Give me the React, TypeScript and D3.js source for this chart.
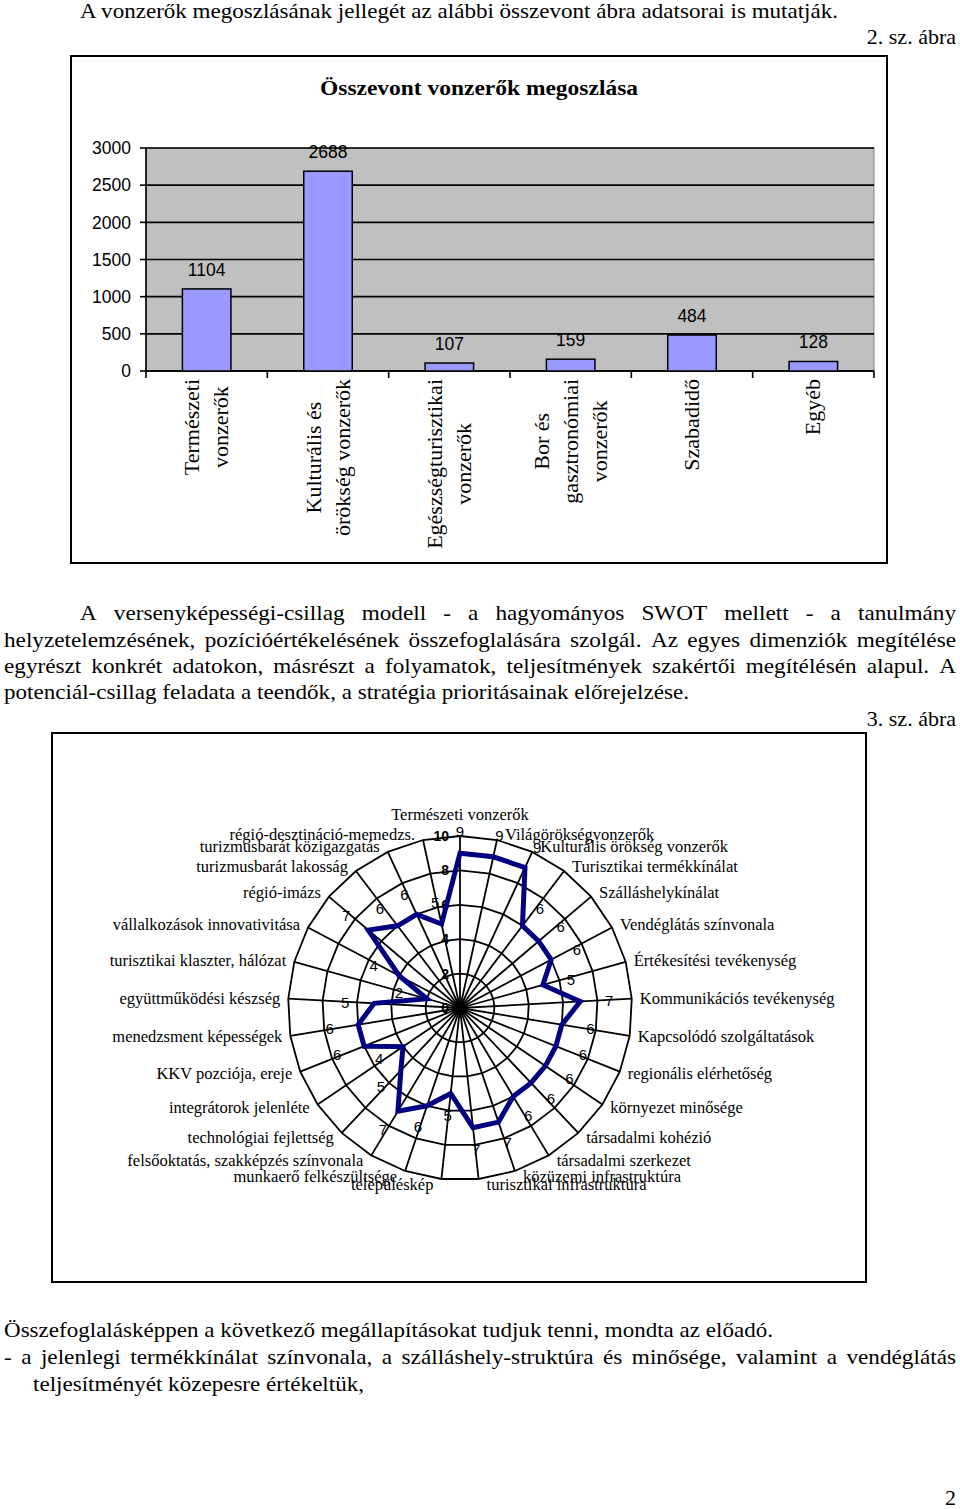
import * as d3 from 'd3'

// --- bar chart data (2. sz. ábra)
const barCategories = [
  ['Természeti', 'vonzerők'],
  ['Kulturális és', 'örökség vonzerők'],
  ['Egészségturisztikai', 'vonzerők'],
  ['Bor és', 'gasztronómiai', 'vonzerők'],
  ['Szabadidő'],
  ['Egyéb'],
]
const barValues = [1104, 2688, 107, 159, 484, 128]
const barTicks = [0, 500, 1000, 1500, 2000, 2500, 3000]

// --- radar chart data (3. sz. ábra)
const radarCategories = [
  'Természeti vonzerők',
  'Világörökségvonzerők',
  'Kulturális örökség vonzerők',
  'Turisztikai termékkínálat',
  'Szálláshelykínálat',
  'Vendéglátás színvonala',
  'Értékesítési tevékenység',
  'Kommunikációs tevékenység',
  'Kapcsolódó szolgáltatások',
  'regionális elérhetőség',
  'környezet minősége',
  'társadalmi kohézió',
  'társadalmi szerkezet',
  'közüzemi infrastruktúra',
  'turisztikai infrastruktúra',
  'településkép',
  'munkaerő felkészültsége',
  'felsőoktatás, szakképzés színvonala',
  'technológiai fejlettség',
  'integrátorok jelenléte',
  'KKV pozciója, ereje',
  'menedzsment képességek',
  'együttműködési készség',
  'turisztikai klaszter, hálózat',
  'vállalkozások innovativitása',
  'régió-imázs',
  'turizmusbarát lakosság',
  'turizmusbarát közigazgatás',
  'régió-desztináció-memedzs.',
]
const radarValues = [9, 9, 9, 6, 6, 6, 5, 7, 6, 6, 6, 6, 6, 7, 7, 5, 6, 7, 5, 4, 6, 6, 5, 2, 4, 7, 6, 6, 5]
const radarTicks = [0, 2, 4, 6, 8, 10]

const SERIF = "'Liberation Serif', 'Times New Roman', serif"
const SANS = "'Liberation Sans', Arial, sans-serif"

let canvasCtx: CanvasRenderingContext2D | null = null
function measure(text: string, font: string) {
  if (!canvasCtx) canvasCtx = document.createElement('canvas').getContext('2d')
  if (!canvasCtx) return text.length * 9
  canvasCtx.font = font
  return canvasCtx.measureText(text).width
}

function BarChart() {
  const left = 146
  const right = 874
  const top = 148
  const bottom = 371

  const x = d3.scaleBand<number>().domain(d3.range(barValues.length)).range([left, right])
  const y = d3.scaleLinear().domain([0, 3000]).range([bottom, top])
  const barW = x.bandwidth() * 0.4
  const labelFont = 22
  const lineGap = 29

  return (
    <g>
      <rect x={71} y={56} width={816} height={507} fill="#fff" stroke="#000" strokeWidth={2} />
      <text x={479} y={95} textAnchor="middle" fontFamily={SERIF} fontWeight={700} fontSize={21}
        textLength={318} lengthAdjust="spacingAndGlyphs">
        Összevont vonzerők megoszlása
      </text>
      <rect x={left} y={top} width={right - left} height={bottom - top} fill="#c0c0c0" stroke="#808080" strokeWidth={1} />
      {barTicks.map(t => (
        <g key={t}>
          <line x1={left} x2={right} y1={y(t)} y2={y(t)} stroke="#000" strokeWidth={1.6} />
          <line x1={left - 6} x2={left} y1={y(t)} y2={y(t)} stroke="#000" strokeWidth={1.6} />
          <text x={131} y={y(t)} dy="0.36em" textAnchor="end" fontFamily={SANS} fontSize={17.5}>{t}</text>
        </g>
      ))}
      <line x1={left} x2={left} y1={top} y2={bottom} stroke="#000" strokeWidth={1.6} />
      <line x1={left} x2={right} y1={bottom} y2={bottom} stroke="#000" strokeWidth={1.6} />
      {d3.range(barValues.length + 1).map(i => {
        const xx = left + i * x.step()
        return <line key={i} x1={xx} x2={xx} y1={bottom} y2={bottom + 7} stroke="#000" strokeWidth={1.6} />
      })}
      {barValues.map((v, i) => {
        const cx = (x(i) ?? 0) + x.bandwidth() / 2
        return (
          <g key={i}>
            <rect x={cx - barW / 2} y={y(v)} width={barW} height={bottom - y(v)} fill="#9999ff" stroke="#000" strokeWidth={1.5} />
            <text x={cx} y={y(v) - 13} textAnchor="middle" fontFamily={SANS} fontSize={17.5}>{v}</text>
          </g>
        )
      })}
      {barCategories.map((lines, i) => {
        const cx = (x(i) ?? 0) + x.bandwidth() / 2
        const widths = lines.map(l => measure(l, `${labelFont}px ${SERIF}`))
        const maxW = Math.max(...widths)
        const yc = 379 + maxW / 2
        return (
          <g key={i}>
            {lines.map((l, j) => {
              const xx = cx + (j - (lines.length - 1) / 2) * lineGap + 7
              return (
                <text key={j} transform={`translate(${xx},${yc}) rotate(-90)`} textAnchor="middle"
                  fontFamily={SERIF} fontSize={labelFont}>
                  {l}
                </text>
              )
            })}
          </g>
        )
      })}
    </g>
  )
}

function RadarChart() {
  const cx = 460
  const cy = 1008
  const R = 172
  const n = radarCategories.length
  const angle = (i: number) => (i * 2 * Math.PI) / n
  const r = d3.scaleLinear().domain([0, 10]).range([0, R])

  const ring = d3.lineRadial<number>()
    .angle((_, i) => angle(i))
    .radius(d => d)
    .curve(d3.curveLinearClosed)
  const dataLine = d3.lineRadial<number>()
    .angle((_, i) => angle(i))
    .radius(d => r(d))
    .curve(d3.curveLinearClosed)

  return (
    <g>
      <rect x={52} y={733} width={814} height={549} fill="#fff" stroke="#000" strokeWidth={2} />
      <g transform={`translate(${cx},${cy})`}>
        {radarTicks.filter(t => t > 0).map(t => (
          <path key={t} d={ring(d3.range(n).map(() => r(t))) ?? undefined} fill="none" stroke="#000" strokeWidth={1.8} />
        ))}
        {d3.range(n).map(i => (
          <line key={i} x1={0} y1={0} x2={R * Math.sin(angle(i))} y2={-R * Math.cos(angle(i))} stroke="#000" strokeWidth={1.8} />
        ))}
        {radarTicks.map(t => (
          <text key={t} x={-11} y={-r(t)} dy="0.36em" textAnchor="end" fontFamily={SANS} fontWeight={700} fontSize={14}>{t}</text>
        ))}
        <path d={dataLine(radarValues) ?? undefined} fill="none" stroke="#000080" strokeWidth={5} strokeLinejoin="miter" />
        {radarValues.map((v, i) => {
          const a = angle(i)
          const px = r(v) * Math.sin(a) + 29 * Math.sin(a)
          const py = -r(v) * Math.cos(a) - 22 * Math.cos(a)
          return (
            <text key={i} x={px} y={py} dy="0.36em" textAnchor="middle" fontFamily={SANS} fontSize={15}>{v}</text>
          )
        })}
        {radarCategories.map((c, i) => {
          const a = angle(i)
          const s = Math.sin(a)
          const co = Math.cos(a)
          if (i === 0) {
            return <text key={i} x={0} y={-R - 21} dy="0.33em" textAnchor="middle" fontFamily={SERIF} fontSize={16.5}>{c}</text>
          }
          const lx = R * s + 8 * Math.sign(s)
          const ly = -R * co - 6 * co
          return (
            <text key={i} x={lx} y={ly} dy="0.33em" textAnchor={s > 0 ? 'start' : 'end'} fontFamily={SERIF} fontSize={16.5}>{c}</text>
          )
        })}
      </g>
    </g>
  )
}

type Line = { text: string; x: number; y: number; w?: number; justify?: boolean; anchor?: 'start' | 'end' }

const pageLines: Line[] = [
  { text: 'A vonzerők megoszlásának jellegét az alábbi összevont ábra adatsorai is mutatják.', x: 80, y: 18, w: 758 },
  { text: '2. sz. ábra', x: 956, y: 44, anchor: 'end' },
  { text: 'A versenyképességi-csillag modell - a hagyományos SWOT mellett - a tanulmány', x: 80, y: 620, w: 876, justify: true },
  { text: 'helyzetelemzésének, pozícióértékelésének összefoglalására szolgál. Az egyes dimenziók megítélése', x: 4, y: 647, w: 952, justify: true },
  { text: 'egyrészt konkrét adatokon, másrészt a folyamatok, teljesítmények szakértői megítélésén alapul. A', x: 4, y: 673, w: 952, justify: true },
  { text: 'potenciál-csillag feladata a teendők, a stratégia prioritásainak előrejelzése.', x: 4, y: 699, w: 685 },
  { text: '3. sz. ábra', x: 956, y: 726, anchor: 'end' },
  { text: 'Összefoglalásképpen a következő megállapításokat tudjuk tenni, mondta az előadó.', x: 4, y: 1337, w: 769 },
  { text: '- a jelenlegi termékkínálat színvonala, a szálláshely-struktúra és minősége, valamint a vendéglátás', x: 4, y: 1364, w: 952, justify: true },
  { text: 'teljesítményét közepesre értékeltük,', x: 33, y: 1391, w: 331 },
  { text: '2', x: 956, y: 1505, anchor: 'end' },
]

const PAGE_FONT = 22
// the scanned page glyphs are a little wider than Liberation Serif
const WIDEN = 1.055

function PageLine({ l }: { l: Line }) {
  if (l.justify && l.w) {
    const words = l.text.split(' ')
    const font = `${PAGE_FONT}px ${SERIF}`
    const ws = words.map(w => measure(w, font))
    const total = d3.sum(ws)
    let scale = WIDEN
    if (total * scale + (words.length - 1) * 4 > l.w) scale = (l.w - (words.length - 1) * 4) / total
    const gap = (l.w - total * scale) / (words.length - 1)
    let cur = l.x
    return (
      <g>
        {words.map((w, i) => {
          const xx = cur
          cur += ws[i] * scale + gap
          return (
            <text key={i} x={xx} y={l.y} fontFamily={SERIF} fontSize={PAGE_FONT}
              textLength={ws[i] * scale} lengthAdjust="spacingAndGlyphs">
              {w}
            </text>
          )
        })}
      </g>
    )
  }
  return (
    <text x={l.x} y={l.y} textAnchor={l.anchor ?? 'start'} fontFamily={SERIF} fontSize={PAGE_FONT}
      textLength={l.w} lengthAdjust={l.w ? 'spacingAndGlyphs' : undefined}>
      {l.text}
    </text>
  )
}

export default function App() {
  return (
    <svg width={960} height={1509} viewBox="0 0 960 1509"
      style={{ position: 'absolute', left: 0, top: 0, background: '#fff' }}>
      <rect width={960} height={1509} fill="#fff" />
      {pageLines.map((l, i) => <PageLine key={i} l={l} />)}
      <BarChart />
      <RadarChart />
    </svg>
  )
}
